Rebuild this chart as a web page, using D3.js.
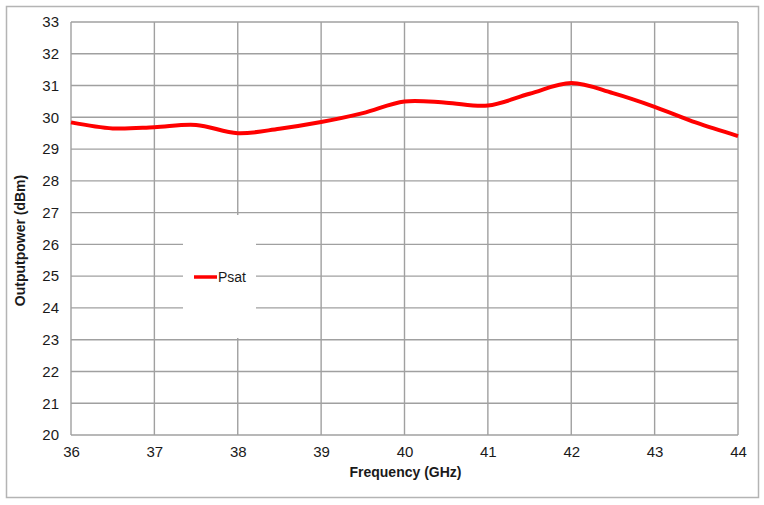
<!DOCTYPE html>
<html>
<head>
<meta charset="utf-8">
<script src="https://cdn.jsdelivr.net/npm/d3@7/dist/d3.min.js"></script>
<style>
  body { margin: 0; background: #fff; }
  text { font-family: "Liberation Sans", Arial, sans-serif; fill: #1a1a1a; }
</style>
</head>
<body>
<div id="main"></div>
<script>
const freq = [36, 36.5, 37, 37.5, 38, 38.5, 39, 39.5, 40, 40.5, 41, 41.5, 42, 42.5, 43, 43.5, 44];
const psat = [29.84, 29.65, 29.69, 29.76, 29.5, 29.64, 29.85, 30.13, 30.5, 30.46, 30.37, 30.74, 31.08, 30.76, 30.33, 29.83, 29.41];
const xTicks = [36, 37, 38, 39, 40, 41, 42, 43, 44];
const yTicks = [20, 21, 22, 23, 24, 25, 26, 27, 28, 29, 30, 31, 32, 33];

const w = 764, h = 505;
const pLeft = 71, pRight = 738, pTop = 22, pBottom = 435;

const svg = d3.select('#main').append('svg').attr('width', w).attr('height', h);

// outer frame
svg.append('rect').attr('x', 6.5).attr('y', 6.5).attr('width', 752).attr('height', 491)
    .attr('fill', '#fff').attr('stroke', '#b4b4b4').attr('stroke-width', 1.5);

const x = d3.scaleLinear().domain([36, 44]).range([pLeft, pRight]);
const y = d3.scaleLinear().domain([20, 33]).range([pBottom, pTop]);

// grid
const grid = svg.append('g');
grid.selectAll('.vx').data(xTicks).enter().append('line')
    .attr('x1', d => x(d)).attr('x2', d => x(d)).attr('y1', pTop).attr('y2', pBottom)
    .attr('stroke', '#a0a0a0').attr('stroke-width', 1.4);
grid.selectAll('.hy').data(yTicks).enter().append('line')
    .attr('x1', pLeft).attr('x2', pRight).attr('y1', d => y(d)).attr('y2', d => y(d))
    .attr('stroke', '#a0a0a0').attr('stroke-width', 1.4);

// axes labels
const xAxis = d3.axisBottom(x).tickValues(xTicks).tickSize(0).tickPadding(11).tickFormat(d3.format('d'));
const yAxis = d3.axisLeft(y).tickValues(yTicks).tickSize(0).tickPadding(12).tickFormat(d3.format('d'));

const gx = svg.append('g').attr('transform', `translate(0,${pBottom})`).call(xAxis);
const gy = svg.append('g').attr('transform', `translate(${pLeft},0)`).call(yAxis);
[gx, gy].forEach(g => {
    g.select('.domain').remove();
    g.selectAll('text').style('font-size', '15px').style('font-family', '"Liberation Sans", Arial, sans-serif')
        .attr('fill', '#141414');
});

// titles
svg.append('text').attr('x', (pLeft + pRight) / 2 + 1).attr('y', 477)
    .attr('text-anchor', 'middle').style('font-size', '14px').style('font-weight', 'bold')
    .text('Frequency (GHz)');
svg.append('text').attr('transform', `translate(25,${(pTop + pBottom) / 2 + 12}) rotate(-90)`)
    .attr('text-anchor', 'middle').style('font-size', '14px').style('font-weight', 'bold')
    .text('Outputpower (dBm)');

// legend box
const legend = svg.append('g');
legend.append('rect').attr('x', 183).attr('y', 215).attr('width', 73).attr('height', 123).attr('fill', '#fff');
legend.append('line').attr('x1', 194).attr('x2', 217).attr('y1', 277).attr('y2', 277)
    .attr('stroke', '#ff0000').attr('stroke-width', 3.5);
legend.append('text').attr('x', 218).attr('y', 282).style('font-size', '14px').text('Psat');

// series
const line = d3.line().x((d, i) => x(freq[i])).y(d => y(d)).curve(d3.curveCatmullRom.alpha(0.5));
svg.append('path').datum(psat).attr('d', line)
    .attr('fill', 'none').attr('stroke', '#ff0000').attr('stroke-width', 4).attr('stroke-linejoin', 'round');
</script>
</body>
</html>
